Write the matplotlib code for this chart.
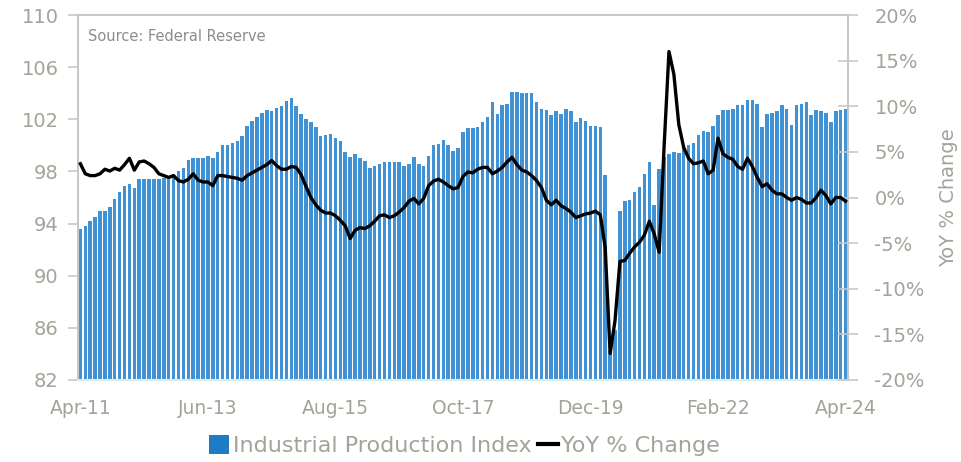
import numpy as np
import matplotlib
matplotlib.use("Agg")
import matplotlib.pyplot as plt
from matplotlib.patches import Patch
from matplotlib.lines import Line2D
from matplotlib.ticker import FuncFormatter

plt.rcParams['font.family'] = ['DejaVu Sans']

# monthly, Apr-2011 .. Apr-2024
months = ['Apr-11', 'Jun-13', 'Aug-15', 'Oct-17', 'Dec-19', 'Feb-22', 'Apr-24']

ip_index = [
    93.6, 93.8, 94.2, 94.5, 95.0, 95.0, 95.3, 95.9, 96.4, 96.9,
    97.0, 96.7, 97.4, 97.4, 97.4, 97.4, 97.4, 97.5, 97.6, 97.8,
    98.05, 98.3, 98.9, 99.0, 99.0, 99.0, 99.2, 99.0, 99.5, 100.0,
    100.0, 100.2, 100.3, 100.7, 101.5, 101.9, 102.2, 102.5, 102.7, 102.6,
    102.9, 103.0, 103.4, 103.6, 103.0, 102.4, 102.0, 101.8, 101.4, 100.7,
    100.8, 100.9, 100.6, 100.3, 99.5, 99.1, 99.3, 99.0, 98.8, 98.3,
    98.4, 98.6, 98.7, 98.7, 98.7, 98.7, 98.4, 98.6, 99.1, 98.6,
    98.4, 99.2, 100.0, 100.1, 100.4, 100.0, 99.6, 99.8, 101.0, 101.3,
    101.3, 101.4, 101.8, 102.2, 103.3, 102.4, 103.1, 103.2, 104.1, 104.1,
    104.0, 104.0, 104.0, 103.3, 102.8, 102.7, 102.3, 102.6, 102.4, 102.8,
    102.6, 101.8, 102.1, 101.9, 101.5, 101.5, 101.4, 97.7, 84.2, 85.8,
    95.0, 95.7, 95.8, 96.4, 96.8, 97.8, 98.7, 95.4, 98.2, 99.1,
    99.3, 99.5, 99.4, 100.0, 100.0, 100.2, 100.8, 101.1, 101.0, 101.5,
    102.3, 102.7, 102.7, 102.8, 103.1, 103.1, 103.5, 103.5, 103.2, 101.4,
    102.4, 102.5, 102.6, 103.1, 102.8, 101.6, 103.1, 103.2, 103.3, 102.3,
    102.7, 102.6, 102.5, 101.8, 102.6, 102.7, 102.8,
]

yoy = [
    3.7, 2.6, 2.4, 2.4, 2.6, 3.1, 2.9, 3.2, 3.0, 3.6,
    4.3, 3.0, 3.9, 4.0, 3.7, 3.3, 2.6, 2.4, 2.2, 2.4,
    1.85, 1.7, 2.0, 2.6, 1.9, 1.7, 1.7, 1.3, 2.4, 2.4,
    2.3, 2.2, 2.1, 1.9, 2.4, 2.7, 3.0, 3.3, 3.6, 4.05,
    3.5, 3.1, 3.1, 3.4, 3.3, 2.5, 1.2, 0.0, -0.8, -1.4,
    -1.7, -1.7, -2.0, -2.5, -3.1, -4.5, -3.6, -3.3, -3.4, -3.1,
    -2.6, -2.0, -1.9, -2.2, -2.0, -1.6, -1.1, -0.4, -0.1, -0.7,
    -0.1, 1.3, 1.8, 2.0, 1.7, 1.3, 0.95, 1.1, 2.3, 2.8,
    2.7, 3.1, 3.3, 3.3, 2.6, 2.9, 3.3, 3.9, 4.4, 3.6,
    3.0, 2.8, 2.4, 1.85, 1.1, -0.3, -0.8, -0.3, -0.9, -1.2,
    -1.6, -2.2, -2.0, -1.8, -1.7, -1.5, -1.9, -5.5, -17.1, -13.5,
    -7.0, -6.9, -6.1, -5.4, -4.9, -4.1, -2.6, -4.0, -6.0, 5.5,
    16.0, 13.5, 8.0, 5.5, 4.3, 3.7, 3.8, 4.0, 2.6, 3.0,
    6.5, 4.8, 4.4, 4.2, 3.4, 3.1, 4.3, 3.4, 2.2, 1.2,
    1.5, 0.8, 0.4, 0.4, 0.0, -0.3, 0.0, -0.2, -0.6, -0.6,
    0.0, 0.8, 0.2, -0.7, 0.0, 0.0, -0.4,
]

x = np.arange(len(ip_index))
gray = '#a3a39a'
spine_col = '#c8c8c8'

fig = plt.figure(figsize=(9.62, 4.62), dpi=100)
ax = fig.add_axes([0.081, 0.1775, 0.8005, 0.79])

ax.bar(x, ip_index, width=0.72, color='#4092d5', linewidth=0)
ax.set_ylim(82, 110)
ax.set_yticks(np.arange(82, 111, 4))
ax.set_xlim(-0.5, len(x) - 0.5)
ax.set_xticks(np.arange(0, len(x), 26))
ax.set_xticklabels(months)

ax.tick_params(axis='y', colors=gray, labelsize=14, direction='out', length=7,
               width=1.2, pad=7)
ax.tick_params(axis='y', color=spine_col)
ax.tick_params(axis='x', colors=gray, labelsize=13.5, length=0, pad=14)
for s in ['left', 'top', 'right', 'bottom']:
    ax.spines[s].set_color(spine_col)
    ax.spines[s].set_linewidth(1.5)
ax.spines['bottom'].set_color('#dde8f0')

ax2 = ax.twinx()
ax2.plot(x, yoy, color='black', lw=2.4)
ax2.set_ylim(-20, 20)
ax2.set_yticks(np.arange(-20, 21, 5))
ax2.yaxis.set_major_formatter(FuncFormatter(lambda v, p: '%d%%' % v))
ax2.tick_params(axis='y', colors=gray, labelsize=14, direction='inout', length=14,
                width=1.2, pad=12)
ax2.tick_params(axis='y', color=spine_col)
for s in ['left', 'top', 'right', 'bottom']:
    ax2.spines[s].set_visible(False)
ax2.set_ylabel('YoY % Change', color=gray, fontsize=14, labelpad=10)

ax.text(0.013, 0.94, 'Source: Federal Reserve', transform=ax.transAxes,
        color='#8c8c8c', fontsize=10.5, va='center', ha='left')

handles = [Patch(facecolor='#1f7bc4', edgecolor='none'),
           Line2D([0], [0], color='black', lw=3)]
leg = fig.legend(handles, ['Industrial Production Index', 'YoY % Change'],
                 loc='center', bbox_to_anchor=(0.483, 0.035), ncol=2,
                 frameon=False, fontsize=16, handlelength=0.9, handleheight=0.9,
                 handletextpad=0.15, columnspacing=0.3)
for t in leg.get_texts():
    t.set_color(gray)

fig.savefig('out.png', dpi=100)
